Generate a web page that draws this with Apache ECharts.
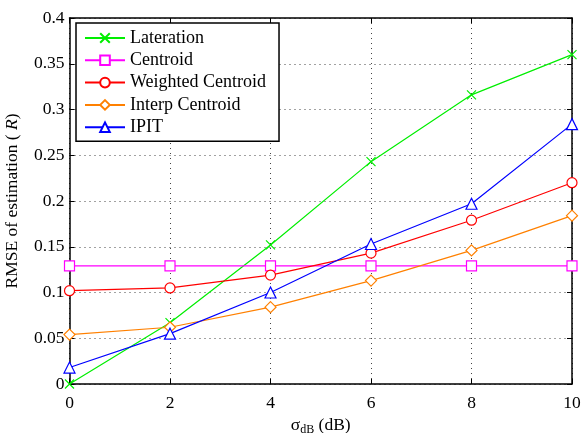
<!DOCTYPE html>
<html><head><meta charset="utf-8">
<script src="https://cdn.jsdelivr.net/npm/echarts@6/dist/echarts.min.js"></script>
<style>html,body{margin:0;padding:0;background:#fff}#c{width:581px;height:433px}</style>
</head><body><div id="c"></div>
<script>
const xValues = [0, 2, 4, 6, 8, 10];
const lateration = [0.000, 0.067, 0.152, 0.243, 0.316, 0.360];
const centroid = [0.129, 0.129, 0.129, 0.129, 0.129, 0.129];
const weighted = [0.102, 0.105, 0.119, 0.143, 0.179, 0.220];
const interp = [0.054, 0.062, 0.084, 0.113, 0.146, 0.184];
const ipit = [0.018, 0.055, 0.100, 0.153, 0.197, 0.284];
const seriesNames = ['Lateration', 'Centroid', 'Weighted Centroid', 'Interp Centroid', 'IPIT'];

const font = 'Liberation Serif';
const crossPath = 'path://M0,0L10,10M10,0L0,10';
function mk(name, data, color, symbol, size) {
  return {
    name, type: 'line', data: xValues.map((x, i) => [x, data[i]]),
    symbol, symbolSize: size, showSymbol: true,
    lineStyle: { color, width: 1.2 },
    itemStyle: { color: symbol === crossPath ? color : '#fff', borderColor: color, borderWidth: 1.2 },
    color, z: 3, animation: false
  };
}
const chart = echarts.init(document.getElementById('c'));
const axisCommon = {
  axisLine: { show: true, onZero: false, lineStyle: { color: '#000', width: 1.5 } },
  axisTick: { show: true, inside: true, length: 5, lineStyle: { color: '#000' } },
};
chart.setOption({
  animation: false,
  textStyle: { fontFamily: font },
  grid: { left: 69.5, right: 9, top: 18, bottom: 49, containLabel: false, outerBoundsMode: 'none' },
  legend: {
    orient: 'vertical', left: 76, top: 23,
    data: seriesNames,
    itemWidth: 40, itemHeight: 12, itemGap: 4.3,
    padding: [6, 13, 5, 8],
    borderColor: '#000', borderWidth: 1.5, backgroundColor: '#fff',
    textStyle: { fontFamily: font, fontSize: 18, color: '#000' }
  },
  xAxis: [{
    type: 'value', min: 0, max: 10, interval: 2, position: 'bottom',
    ...axisCommon,
    axisLabel: { fontFamily: font, fontSize: 17.5, color: '#000', margin: 10 },
    splitLine: { show: true, lineStyle: { color: '#444', type: [1, 4], width: 1 } },
    name: '{s|σ}{sub|dB}{s| (dB)}', nameLocation: 'middle', nameGap: 28,
    nameTextStyle: { rich: {
      s: { fontFamily: font, fontSize: 17.5, color: '#000' },
      sub: { fontFamily: font, fontSize: 12, color: '#000', padding: [8, 0, 0, 0] }
    } }
  }, {
    type: 'value', min: 0, max: 10, interval: 2, position: 'top',
    ...axisCommon, axisLabel: { show: false }, splitLine: { show: false }
  }],
  yAxis: [{
    type: 'value', min: 0, max: 0.4, interval: 0.05, position: 'left',
    ...axisCommon,
    axisLabel: { fontFamily: font, fontSize: 17.5, color: '#000', margin: 5,
      formatter: v => String(+v.toFixed(2)) },
    splitLine: { show: true, lineStyle: { color: '#444', type: [1, 4], width: 1 } },
    name: '{s|RMSE of estimation ( }{i|R}{s|)}', nameLocation: 'middle', nameGap: 48,
    nameTextStyle: { rich: {
      s: { fontFamily: font, fontSize: 17.5, color: '#000' },
      i: { fontFamily: font, fontSize: 17.5, color: '#000', fontStyle: 'italic' }
    } }
  }, {
    type: 'value', min: 0, max: 0.4, interval: 0.05, position: 'right',
    ...axisCommon, axisLabel: { show: false }, splitLine: { show: false }
  }],
  series: [
    mk('Lateration', lateration, '#00ee00', crossPath, 9),
    mk('Centroid', centroid, '#ff00ff', 'rect', 10),
    mk('Weighted Centroid', weighted, '#ff0000', 'circle', 10),
    mk('Interp Centroid', interp, '#ff8000', 'diamond', 11),
    mk('IPIT', ipit, '#0000ff', 'triangle', 11)
  ]
});
</script></body></html>
